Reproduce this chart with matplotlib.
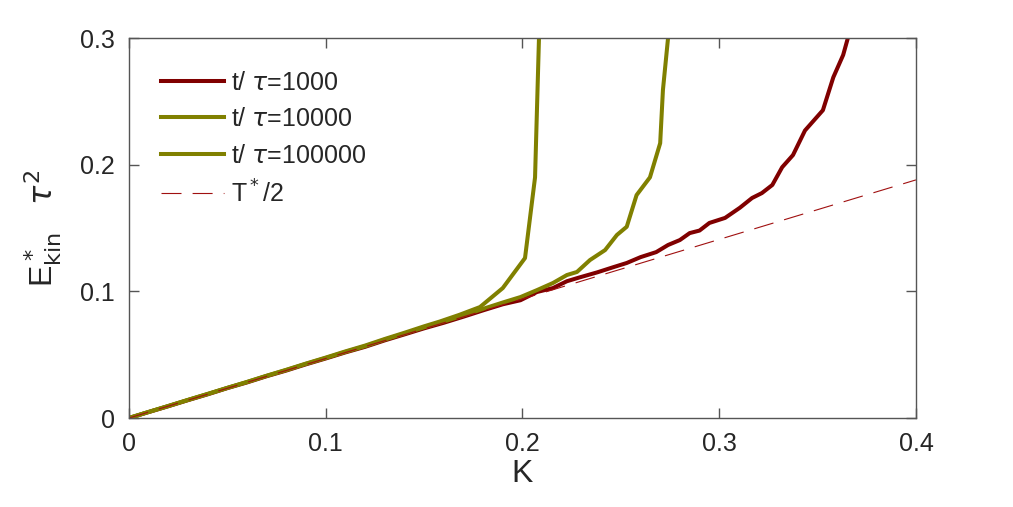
import numpy as np
import matplotlib
matplotlib.use("Agg")
import matplotlib.pyplot as plt

plt.rcParams['font.family'] = ['Liberation Sans', 'DejaVu Sans']
plt.rcParams['mathtext.fontset'] = 'dejavusans'

# t/tau = 1000
k_1000 = [0, 0.01, 0.02, 0.03, 0.04, 0.05, 0.06, 0.07, 0.08, 0.09, 0.10, 0.11,
          0.12, 0.13, 0.14, 0.15, 0.16, 0.17, 0.18, 0.19, 0.199, 0.2074, 0.2155,
          0.2226, 0.229, 0.238, 0.246, 0.253, 0.26, 0.268, 0.274, 0.28, 0.285,
          0.29, 0.295, 0.303, 0.3105, 0.3167, 0.3217, 0.327, 0.332, 0.3375,
          0.3436, 0.3527, 0.358, 0.363, 0.3654, 0.367]
e_1000 = [0, 0.0047, 0.0093, 0.0141, 0.0187, 0.0236, 0.0281, 0.0330, 0.0375,
          0.0424, 0.0470, 0.0518, 0.0562, 0.0613, 0.0660, 0.0708, 0.0752, 0.0800,
          0.0850, 0.0898, 0.093, 0.0995, 0.1026, 0.108, 0.111, 0.115, 0.119,
          0.1224, 0.127, 0.131, 0.1366, 0.1405, 0.146, 0.148, 0.154, 0.158,
          0.166, 0.1737, 0.1776, 0.184, 0.198, 0.2076, 0.227, 0.243, 0.269,
          0.2866, 0.3, 0.31]

# t/tau = 10000
k_10000 = [0, 0.01, 0.02, 0.03, 0.04, 0.05, 0.06, 0.07, 0.08, 0.09, 0.10, 0.11,
           0.12, 0.13, 0.14, 0.15, 0.16, 0.17, 0.18, 0.19, 0.199, 0.2074,
           0.2155, 0.2226, 0.2277, 0.2343, 0.242, 0.248, 0.253, 0.258, 0.2648,
           0.27, 0.2714, 0.274, 0.2745]
e_10000 = [0, 0.0048, 0.0095, 0.0143, 0.0190, 0.0238, 0.0284, 0.0333, 0.0379,
           0.0428, 0.0474, 0.0522, 0.0567, 0.0619, 0.0667, 0.0716, 0.0762,
           0.0810, 0.0862, 0.0912, 0.0955, 0.101, 0.1066, 0.1129, 0.1153,
           0.1247, 0.1326, 0.1445, 0.151, 0.176, 0.190, 0.217, 0.259, 0.3, 0.32]

# t/tau = 100000
k_100000 = [0, 0.01, 0.02, 0.03, 0.04, 0.05, 0.06, 0.07, 0.08, 0.09, 0.10,
            0.11, 0.12, 0.13, 0.14, 0.15, 0.158, 0.168, 0.1784, 0.190, 0.2013,
            0.2064, 0.2084, 0.209]
e_100000 = [0, 0.0048, 0.0095, 0.0143, 0.0190, 0.0238, 0.0285, 0.0334, 0.0381,
            0.0430, 0.0477, 0.0526, 0.0572, 0.0624, 0.0673, 0.0724, 0.0762,
            0.0815, 0.0876, 0.1026, 0.1263, 0.190, 0.3, 0.33]

# T*/2 reference line
k_ref = [0, 0.4]
e_ref = [0, 0.188]

red = '#800000'
olive = '#808000'
grey = '#262626'

fig = plt.figure(figsize=(10.13, 5.07), dpi=100)
ax = fig.add_axes([0.1273, 0.1755, 0.7769, 0.7495])

ax.plot(k_1000, e_1000, color=red, lw=2.9, label=r't/ $\tau$=1000')
ax.plot(k_10000, e_10000, color=olive, lw=2.9, label=r't/ $\tau$=10000')
ax.plot(k_100000, e_100000, color=olive, lw=2.9, label=r't/ $\tau$=100000')
ax.plot(k_ref, e_ref, color='#a01010', lw=0.8, dashes=(18, 10), label=r'T$^*$/2')

ax.set_xlim(0, 0.4)
ax.set_ylim(0, 0.3)
ax.set_xticks([0, 0.1, 0.2, 0.3, 0.4])
ax.set_xticklabels(['0', '0.1', '0.2', '0.3', '0.4'])
ax.set_yticks([0, 0.1, 0.2, 0.3])
ax.set_yticklabels(['0', '0.1', '0.2', '0.3'])
ax.tick_params(direction='in', top=True, right=True, labelsize=18,
               length=7, width=1, color='#555555', labelcolor=grey, pad=10)
for s in ax.spines.values():
    s.set_color('#555555')
    s.set_linewidth(1)

ax.set_xlabel('K', fontsize=23, labelpad=2, color=grey)
ax.set_ylabel(r'E$^*_{\rm kin}$   $\tau^2$', fontsize=23, labelpad=12, color=grey)

leg = ax.legend(loc='upper left', frameon=False, fontsize=18, handlelength=2.5,
                borderaxespad=0.9, labelspacing=0.5, handletextpad=0.3)
for t in leg.get_texts():
    t.set_color(grey)

fig.savefig('out.png', dpi=100)
